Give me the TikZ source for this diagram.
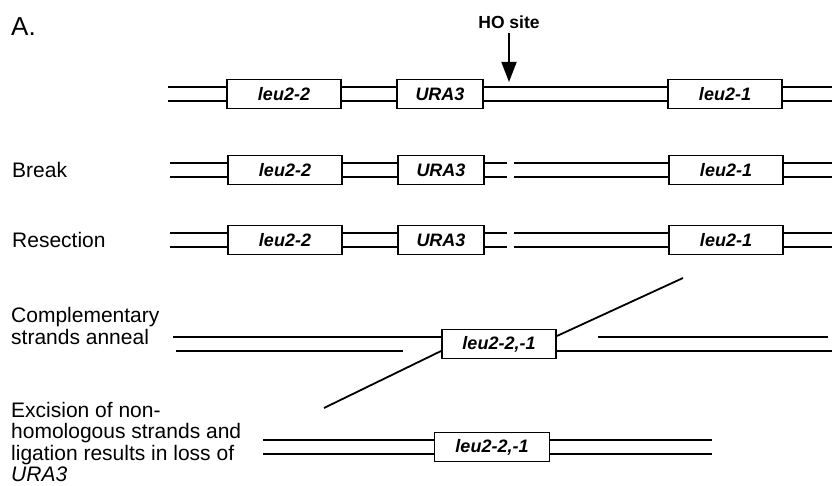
\documentclass[tikz,border=0pt]{standalone}
\usepackage{fontspec}
\setmainfont{Liberation Sans}
\usetikzlibrary{arrows.meta}
\newcommand{\duplex}[2]{%
  \draw[strand] ([yshift=7pt]#1) -- ([yshift=7pt]#2);
  \draw[strand] ([yshift=-7pt]#1) -- ([yshift=-7pt]#2);}

\begin{document}
\begin{tikzpicture}[x=1pt,y=-1pt,
    gene/.style={draw,line width=1.8pt,minimum width=114pt,minimum height=29pt,inner sep=0pt,
      font=\fontsize{18}{18}\selectfont\bfseries\itshape},
    strand/.style={line width=1.6pt},
    lbl/.style={anchor=west,align=left,inner sep=0pt,font=\fontsize{21}{21.5}\selectfont}]
  \useasboundingbox (0,0) rectangle (832,486);

  \node[lbl,font=\fontsize{26}{26}\selectfont] (panel) at (11,27) {A.};
  \node[font=\fontsize{17.5}{17.5}\selectfont\bfseries,inner sep=0pt] (hotxt) at (509,22) {HO site};
  \coordinate (hosite) at (509,82);
  \draw[-{Triangle[width=15pt,length=20pt]},line width=1.6pt] ([yshift=-4pt]hotxt.south) -- (hosite);

  \coordinate (r1w) at (168,94);
  \node[gene] (r1a) at (284,94) {leu2-2};
  \node[gene,minimum width=86pt] (r1b) at (440,94) {URA3};
  \node[gene] (r1c) at (725,94) {leu2-1};
  \coordinate (r1e) at (834,94);
  \duplex{r1w}{r1a.west} \duplex{r1a.east}{r1b.west}
  \duplex{r1b.east}{r1c.west} \duplex{r1c.east}{r1e}

  \node[lbl] (brk) at (12,170) {Break};
  \node[lbl] (res) at (12,240) {Resection};
  \foreach \r/\y in {2/170,3/240} {
    \coordinate (r\r w) at (170,\y);
    \node[gene] (r\r a) at (285,\y) {leu2-2};
    \node[gene,minimum width=86pt] (r\r b) at (441,\y) {URA3};
    \node[gene] (r\r c) at (726,\y) {leu2-1};
    \coordinate (r\r x) at (507,\y);
    \coordinate (r\r y) at (514,\y);
    \coordinate (r\r e) at (834,\y);
    \duplex{r\r w}{r\r a.west} \duplex{r\r a.east}{r\r b.west}
    \duplex{r\r b.east}{r\r x} \duplex{r\r y}{r\r c.west}
    \duplex{r\r c.east}{r\r e}
  }

  \node[lbl] (ann) at (11,326) {Complementary\\strands anneal};
  \node[gene] (r4a) at (499,344) {leu2-2,-1};
  \coordinate (r4tl) at (173,337);
  \coordinate (r4bl) at (176,351);
  \coordinate (r4bm) at (403,351);
  \coordinate (r4tr) at (598,337);
  \coordinate (r4te) at (828,337);
  \coordinate (r4be) at (834,351);
  \coordinate (r4d1) at (324,408);
  \coordinate (r4d2) at (683,278);
  \draw[strand] (r4tl) -- ([yshift=7pt]r4a.west);
  \draw[strand] (r4bl) -- (r4bm);
  \draw[strand] (r4tr) -- (r4te);
  \draw[strand] ([yshift=-7pt]r4a.east) -- (r4be);
  \draw[line width=1.8pt] ([yshift=-7pt]r4a.west) -- (r4d1);
  \draw[line width=1.8pt] ([yshift=8pt]r4a.east) -- (r4d2);

  \node[lbl] (exc) at (11,442) {Excision of non-\\homologous strands and\\ligation results in loss of\\\textit{URA3}};
  \coordinate (r5w) at (263,447);
  \node[gene,minimum width=115pt] (r5a) at (492,447) {leu2-2,-1};
  \coordinate (r5e) at (712,447);
  \duplex{r5w}{r5a.west} \duplex{r5a.east}{r5e}
\end{tikzpicture}
\end{document}
